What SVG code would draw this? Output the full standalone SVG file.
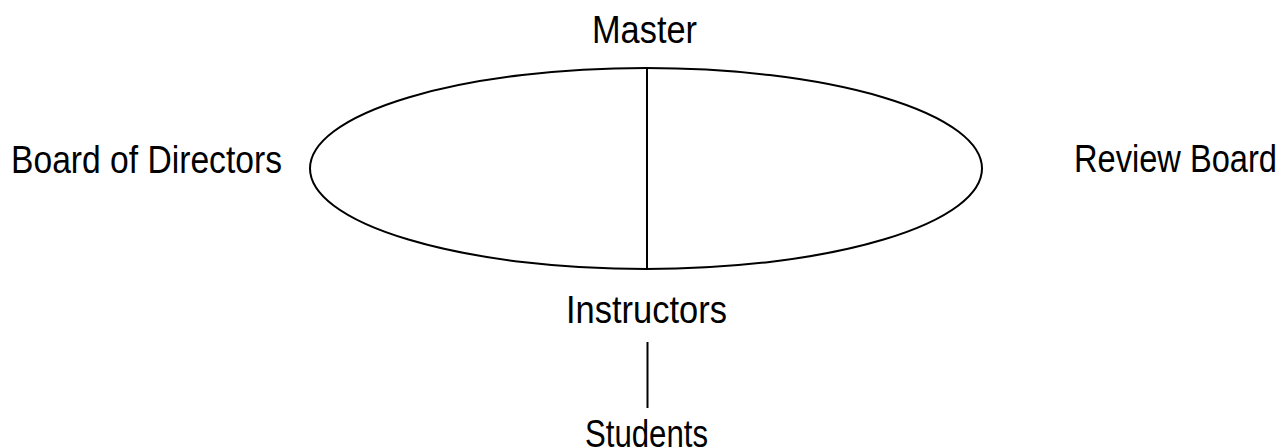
<svg xmlns="http://www.w3.org/2000/svg" width="1282" height="448" viewBox="0 0 1282 448">
<style>
.lbl{font-family:"Liberation Sans",Arial,sans-serif;font-size:38px;fill:#000}
.ln{stroke:#000;stroke-width:2;fill:none}
</style>
<rect width="1282" height="448" fill="#fff"/>
<g id="connectors">
<ellipse class="ln" cx="646" cy="168.5" rx="336" ry="100.5"/>
<line class="ln" x1="647" y1="68" x2="647" y2="269"/>
<line class="ln" x1="647.5" y1="342" x2="647.5" y2="408"/>
</g>
<g id="master"><text class="lbl" x="592" y="43" textLength="105" lengthAdjust="spacingAndGlyphs">Master</text></g>
<g id="board"><text class="lbl" x="11" y="173" textLength="271" lengthAdjust="spacingAndGlyphs">Board of Directors</text></g>
<g id="review"><text class="lbl" x="1074" y="172" textLength="203" lengthAdjust="spacingAndGlyphs">Review Board</text></g>
<g id="instructors"><text class="lbl" x="566" y="323" textLength="161" lengthAdjust="spacingAndGlyphs">Instructors</text></g>
<g id="students"><text class="lbl" x="585" y="447" textLength="123" lengthAdjust="spacingAndGlyphs">Students</text></g>
</svg>
